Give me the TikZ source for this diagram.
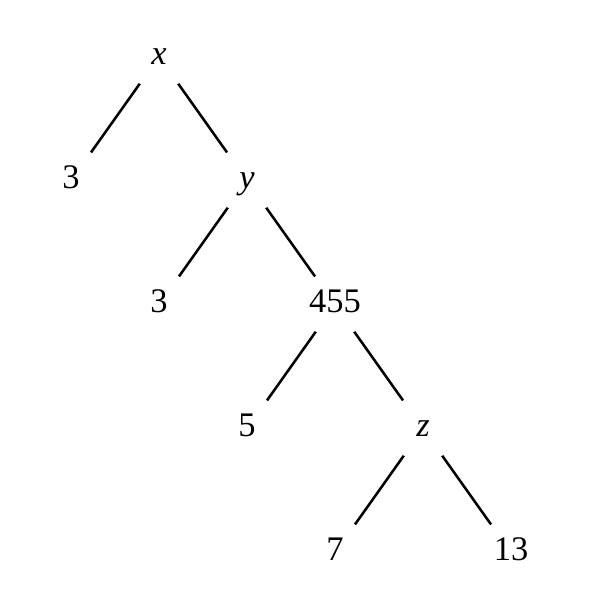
\documentclass[tikz,border=0pt]{standalone}
\usepackage{fontspec}
\setmainfont{Liberation Serif}
\usetikzlibrary{calc}
\usetikzlibrary{positioning}

\begin{document}
\begin{tikzpicture}[x=0.025cm, y=-0.025cm]
 \tikzstyle{tnode}=[inner sep = 0pt, anchor = base, text height = 17pt, text depth = 0pt, font=\fontsize{24.5}{29}\selectfont]
 \tikzstyle{line} = [draw, line width = 1.8pt, shorten <= 27.6pt, shorten >= 20.6pt]
 \useasboundingbox (0, 0) rectangle (600, 600);

 \node[tnode] (x) at (159, 64) {\textit{x}};
 \node[tnode] (a3) at (71, 188) {3};
 \node[tnode] (y) at (247, 188) {\textit{y}};
 \node[tnode] (b3) at (159, 312) {3};
 \node[tnode] (n455) at (335, 312) {455};
 \node[tnode] (c5) at (247, 436) {5};
 \node[tnode] (z) at (423, 436) {\textit{z}};
 \node[tnode] (d7) at (335, 560) {7};
 \node[tnode] (d13) at (511, 560) {13};

 % left edges a bit to the right, right edges a bit to the left
 \path [line] ([xshift=2.3pt]x.center) -- ([xshift=2.3pt]a3.center);
 \path [line] ([xshift=-2.3pt]x.center) -- ([xshift=-2.3pt]y.center);
 \path [line] ([xshift=2.3pt]y.center) -- ([xshift=2.3pt]b3.center);
 \path [line] ([xshift=-2.3pt]y.center) -- ([xshift=-2.3pt]n455.center);
 \path [line] ([xshift=2.3pt]n455.center) -- ([xshift=2.3pt]c5.center);
 \path [line] ([xshift=-2.3pt]n455.center) -- ([xshift=-2.3pt]z.center);
 \path [line] ([xshift=2.3pt]z.center) -- ([xshift=2.3pt]d7.center);
 \path [line] ([xshift=-2.3pt]z.center) -- ([xshift=-2.3pt]d13.center);

\end{tikzpicture}
\end{document}
